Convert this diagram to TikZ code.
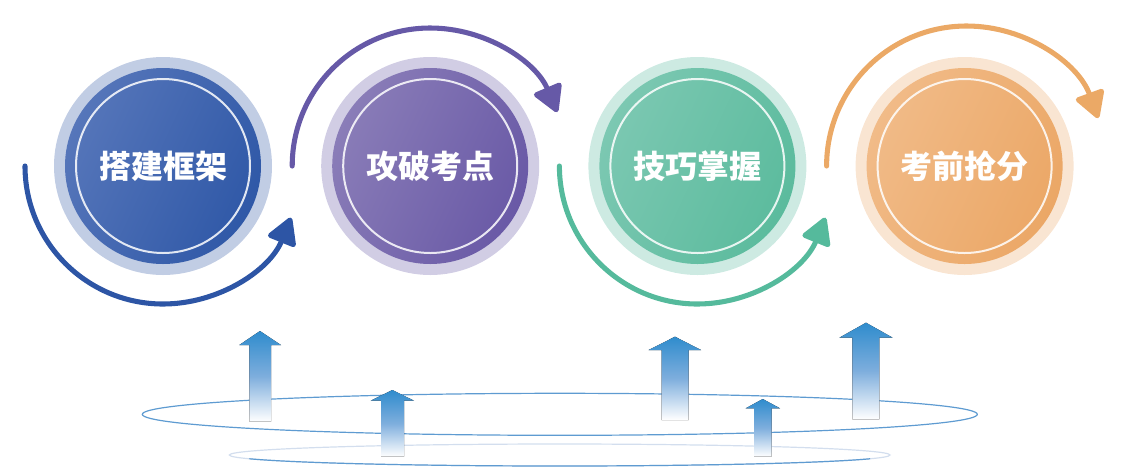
\documentclass[tikz,border=0pt]{standalone}
\usepackage{fontspec}
\newfontfamily\cjk{Noto Sans CJK SC}
\usetikzlibrary{%
    arrows.meta,
    positioning,
    calc
}

\definecolor{blueA}{HTML}{5676BA}
\definecolor{blueB}{HTML}{2F58A7}
\definecolor{blueH}{HTML}{C1CDE4}
\definecolor{blueL}{HTML}{2D55A5}
\definecolor{purpleA}{HTML}{8A7DB8}
\definecolor{purpleB}{HTML}{6959A6}
\definecolor{purpleH}{HTML}{D1CDE4}
\definecolor{purpleL}{HTML}{6659A7}
\definecolor{greenA}{HTML}{7CC8B2}
\definecolor{greenB}{HTML}{5BBB9D}
\definecolor{greenH}{HTML}{CDEAE2}
\definecolor{greenL}{HTML}{55BA9C}
\definecolor{orangeA}{HTML}{F1BB88}
\definecolor{orangeB}{HTML}{EBA766}
\definecolor{orangeH}{HTML}{F9E5D2}
\definecolor{orangeL}{HTML}{EBA966}
\definecolor{upblue}{HTML}{2F8CCD}
\definecolor{upmid}{HTML}{7EAEDD}
\definecolor{orbitblue}{HTML}{5E9BD1}
\definecolor{orbitlight}{HTML}{D3DEEE}

\begin{document}
\begin{tikzpicture}[x=0.75pt, y=-0.75pt,
    halo/.style={circle, minimum size=163.5pt, inner sep=0pt},
    core/.style 2 args={circle, minimum size=147pt, inner sep=0pt, left color=#1, right color=#2, shading angle=65,
      text=white, font=\cjk\bfseries\fontsize{24}{24}\selectfont},
    ring/.style={circle, draw=white, draw opacity=.85, line width=1.5pt, minimum size=130.5pt, inner sep=0pt},
    turn/.style={line width=3.8pt, line cap=round, -{Triangle[length=22pt, width=24pt, round]}},
    up/.style={top color=upblue, bottom color=white, middle color=upmid},
    orbit/.style={line width=0.9pt}]
      \useasboundingbox (0,0) rectangle (1123,469);

      \node[halo, fill=blueH] (c1) at (163,166) {};
      \node[halo, fill=purpleH, right=36.5pt of c1] (c2) {};
      \node[halo, fill=greenH, right=36.5pt of c2] (c3) {};
      \node[halo, fill=orangeH, right=36.5pt of c3] (c4) {};

      \node[core={blueA}{blueB}] (k1) at (c1) {搭建框架};
      \node[core={purpleA}{purpleB}] (k2) at (c2) {攻破考点};
      \node[core={greenA}{greenB}] (k3) at (c3) {技巧掌握};
      \node[core={orangeA}{orangeB}] (k4) at (c4) {考前抢分};

      \node[ring] (r1) at (c1) {};
      \node[ring] (r2) at (c2) {};
      \node[ring] (r3) at (c3) {};
      \node[ring] (r4) at (c4) {};

      \draw[turn, blueL] ([shift={(180:138)}]c1.center) arc[start angle=180, end angle=22, radius=138];
      \draw[turn, purpleL] ([shift={(180:138)}]c2.center) arc[start angle=180, end angle=337, radius=138];
      \draw[turn, greenL] ([shift={(180:138)}]c3.center) arc[start angle=180, end angle=22, radius=138];
      \draw[turn, orangeL] ([shift={(180:138)}]c4.center) arc[start angle=180, end angle=340, radius=140];

      \coordinate (base) at (559.8,414.3);
      \coordinate (low) at (559.7,455);
      \draw[orbit, orbitblue] (base) ellipse[x radius=417.5, y radius=21];
      \draw[orbit, orbitlight] (low) ellipse[x radius=330.3, y radius=11];
      \draw[orbit, orbitblue] ([shift={(160:330.3 and 11)}]low) arc[start angle=160, end angle=20, x radius=330.3, y radius=11];

      \fill[up] (249.3,421.7) -- (249.3,345) -- (239.3,345) -- (260,331) -- (281,345) -- (271,345) -- (271,421.7) -- cycle;
      \fill[up] (381,456.7) -- (381,400.7) -- (370.7,400.7) -- (392.3,390) -- (414,400.7) -- (404,400.7) -- (404,456.7) -- cycle;
      \fill[up] (661.7,420) -- (661.7,350) -- (648.7,350) -- (675,336.7) -- (701,350) -- (688.7,350) -- (688.7,420) -- cycle;
      \fill[up] (754,456.7) -- (754,408.3) -- (745.7,408.3) -- (762.7,399) -- (780,408.3) -- (771.7,408.3) -- (771.7,456.7) -- cycle;
      \fill[up] (852.3,419.3) -- (852.3,337.7) -- (839.3,337.7) -- (866,322.7) -- (892.7,337.7) -- (879.3,337.7) -- (879.3,419.3) -- cycle;
\end{tikzpicture}
\end{document}
